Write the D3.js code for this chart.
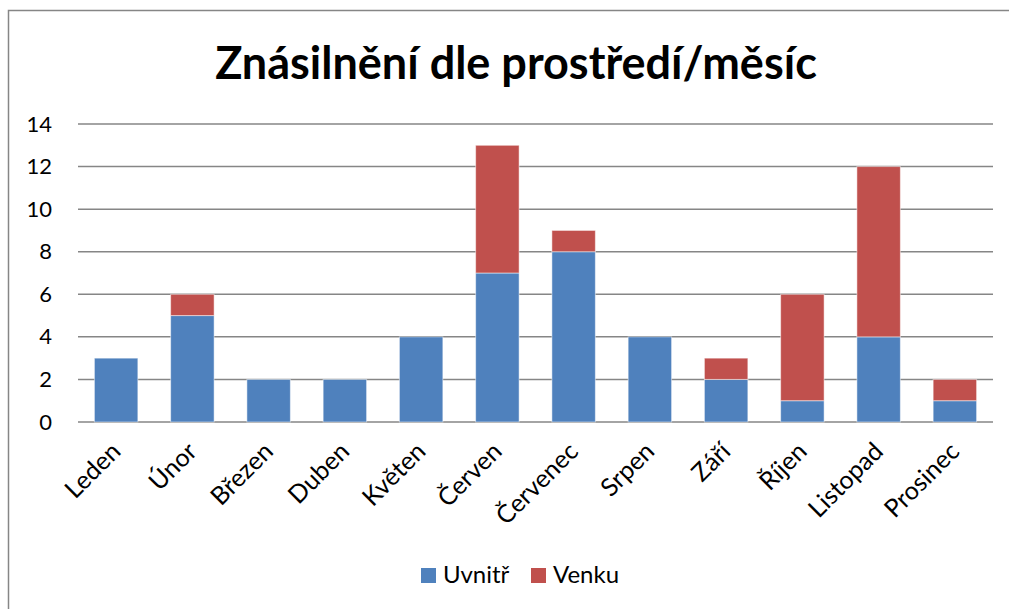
<!DOCTYPE html>
<html>
<head>
<meta charset="utf-8">
<script src="https://cdn.jsdelivr.net/npm/d3@7"></script>
<style>
  body { margin: 0; background: #fff; }
  text { font-family: Lato, "Open Sans", sans-serif; fill: #000; }
</style>
</head>
<body>
<script>
// months and values per series
var months = ["Leden", "Únor", "Březen", "Duben", "Květen", "Červen",
              "Červenec", "Srpen", "Září", "Říjen", "Listopad", "Prosinec"];
var uvnitr = [3, 5, 2, 2, 4, 7, 8, 4, 2, 1, 4, 1];
var venku  = [0, 1, 0, 0, 0, 6, 1, 0, 1, 5, 8, 1];
var seriesNames = ["Uvnitř", "Venku"];
var yTicks = [0, 2, 4, 6, 8, 10, 12, 14];

var colors = ["#4F81BD", "#C0504D"];
var W = 1009, H = 609;
var plotLeft = 78, plotRight = 993, plotTop = 124, plotBottom = 422;

var svg = d3.select("body").append("svg")
    .attr("width", W).attr("height", H);

// chart frame
svg.append("rect")
    .attr("x", 8.5).attr("y", 10.5)
    .attr("width", W + 10).attr("height", H + 10)
    .attr("fill", "none").attr("stroke", "#868686").attr("stroke-width", 1.5);

svg.append("text")
    .attr("x", 516).attr("y", 79)
    .attr("text-anchor", "middle")
    .attr("font-size", 45).attr("font-weight", "bold")
    .text("Znásilnění dle prostředí/měsíc");

var x = d3.scaleBand().domain(months).range([plotLeft, plotRight]).paddingInner(0.43).paddingOuter(0.215);
var y = d3.scaleLinear().domain([0, 14]).range([plotBottom, plotTop]);

// gridlines
svg.append("g").selectAll("line")
    .data(yTicks).enter().append("line")
    .attr("x1", plotLeft).attr("x2", plotRight)
    .attr("y1", function (d) { return y(d); })
    .attr("y2", function (d) { return y(d); })
    .attr("stroke", "#868686").attr("stroke-width", 1.5);

// y axis labels
var yAxis = d3.axisLeft(y).tickValues(yTicks).tickSize(0).tickPadding(0);
var yg = svg.append("g").attr("transform", "translate(52,0)").call(yAxis);
yg.select(".domain").remove();
yg.selectAll("text").attr("font-size", 22).attr("font-family", "Lato, sans-serif").attr("fill", "#000");

var rows = months.map(function (m, i) { return { month: m, Uvnitř: uvnitr[i], Venku: venku[i] }; });
var stacked = d3.stack().keys(seriesNames)(rows);

svg.append("g").selectAll("g")
    .data(stacked).enter().append("g")
    .attr("fill", function (d, i) { return colors[i]; })
    .selectAll("rect")
    .data(function (d) { return d.filter(function (p) { return p[1] > p[0]; }); })
    .enter().append("rect")
    .attr("x", function (d) { return x(d.data.month); })
    .attr("width", x.bandwidth())
    .attr("y", function (d) { return y(d[1]); })
    .attr("height", function (d) { return y(d[0]) - y(d[1]); })
    .attr("stroke", "#ffffff").attr("stroke-opacity", 0.5).attr("stroke-width", 1);

// x labels
svg.append("g").selectAll("text")
    .data(months).enter().append("text")
    .attr("text-anchor", "end")
    .attr("font-size", 25)
    .attr("transform", function (d) {
        return "translate(" + (x(d) + x.bandwidth() / 2 + 6) + ",453) rotate(-45)";
    })
    .text(function (d) { return d; });

// legend
var legendX = [421, 531];
var lg = svg.append("g").selectAll("g")
    .data(seriesNames).enter().append("g")
    .attr("transform", function (d, i) { return "translate(" + legendX[i] + ",568)"; });
lg.append("rect").attr("width", 15).attr("height", 15)
    .attr("fill", function (d, i) { return colors[i]; });
lg.append("text").attr("x", 22).attr("y", 15).attr("font-size", 24)
    .text(function (d) { return d; });
</script>
</body>
</html>
